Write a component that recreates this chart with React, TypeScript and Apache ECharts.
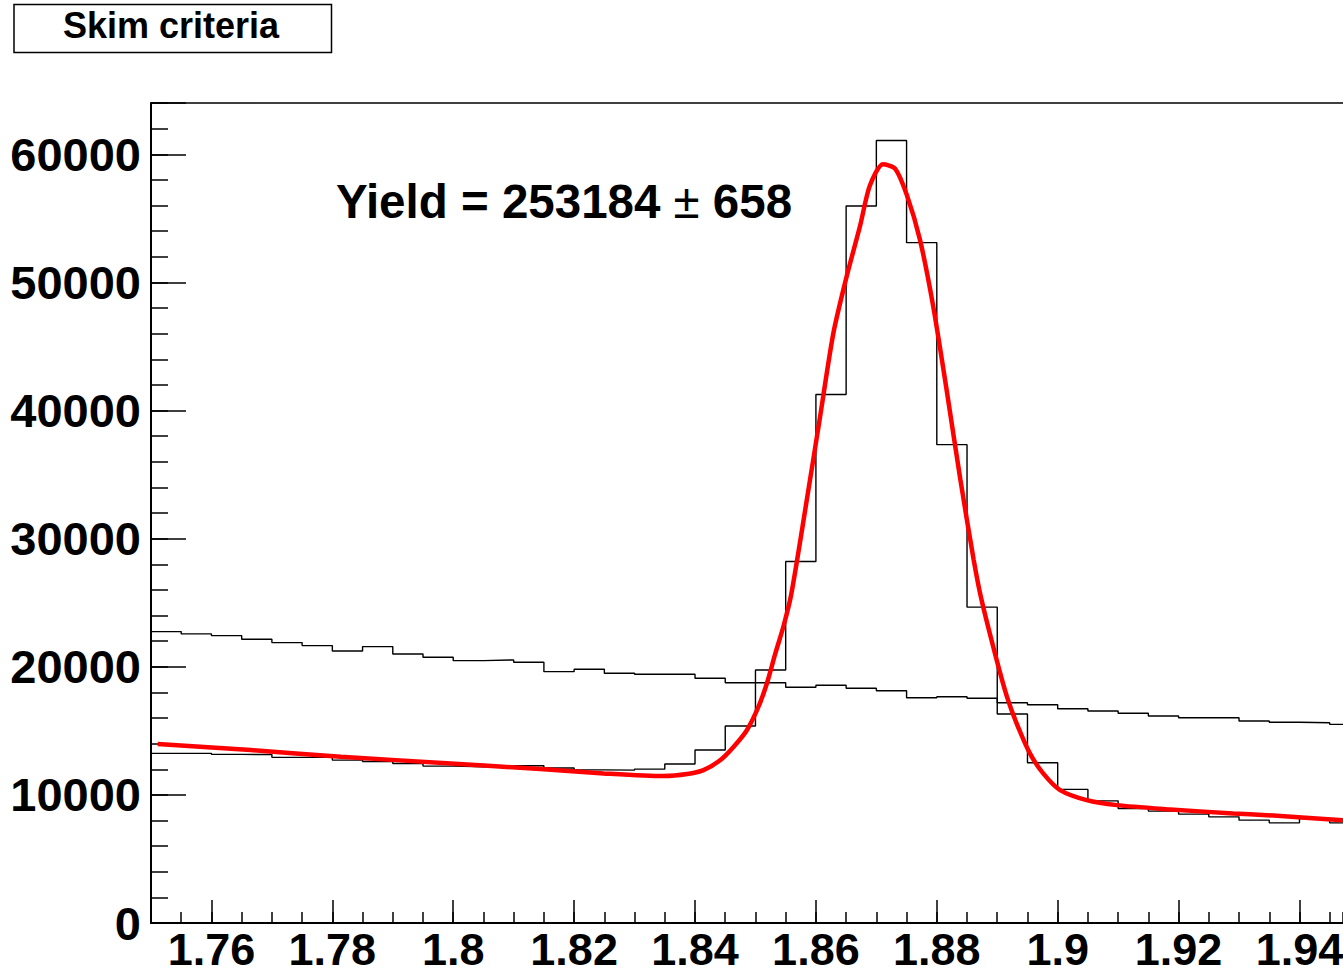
import React, { useEffect, useRef } from 'react';
import * as echarts from 'echarts';

// Histogram binning (GeV) and plot window
const BIN_START = 1.75;
const BIN_WIDTH = 0.005;
const X_MIN = 1.75;
const X_MAX = 1.9472;
const Y_MAX = 64000;

const X_MAJOR_TICKS = [1.76, 1.78, 1.8, 1.82, 1.84, 1.86, 1.88, 1.9, 1.92, 1.94];

// Sideband-like reference distribution (entries per bin)
const REFERENCE_COUNTS = [
  22743, 22563, 22430, 22149, 21884, 21649, 21235, 21571, 21000, 20743,
  20477, 20532, 20352, 19617, 19805, 19492, 19414, 19414, 19101, 18757,
  18757, 18398, 18554, 18320, 18132, 17585, 17663, 17538, 17194, 17038,
  16725, 16545, 16366, 16155, 16022, 16022, 15764, 15663, 15631, 15506,
];

// Candidates passing the skim criteria (entries per bin)
const SKIM_COUNTS = [
  13240, 13240, 13161, 13150, 12927, 12927, 12716, 12600, 12450, 12247,
  12200, 12150, 12270, 12100, 11950, 11935, 12013, 12404, 13498, 15373,
  19750, 28214, 41243, 55960, 61070, 53100, 37335, 24650, 16311, 12505,
  10426, 9535, 8941, 8730, 8495, 8284, 8027, 7815, 8150, 7815,
];

// Fitted signal + background curve
const FIT_X = [
  1.7511, 1.7665, 1.7814, 1.7996, 1.8144, 1.8249, 1.8348, 1.8387, 1.8414, 1.8442,
  1.8464, 1.8486, 1.8505, 1.8519, 1.8533, 1.8546, 1.8559, 1.8585, 1.8607, 1.8629,
  1.8651, 1.8673, 1.8689, 1.8711, 1.8731, 1.875, 1.8772, 1.8794, 1.8817, 1.8839,
  1.8861, 1.8874, 1.8899, 1.8916, 1.8932, 1.8954, 1.8976, 1.9004, 1.9048, 1.9098,
  1.918, 1.929, 1.9346, 1.9472,
];
const FIT_Y = [
  13966, 13497, 12974, 12458, 12013, 11677, 11465, 11622, 11934, 12716,
  13755, 15061, 16881, 18710, 21055, 23100, 25600, 33036, 39547, 46065,
  50488, 54396, 57523, 59218, 58882, 56874, 53357, 48144, 41375, 34599,
  28347, 25221, 20532, 17663, 15584, 13240, 11677, 10371, 9590, 9199,
  8886, 8550, 8417, 8027,
];

const YIELD = 253184;
const YIELD_ERR = 658;
const LEGEND_LABEL = 'Skim criteria';

const FONT = '"Liberation Sans", Arial, Helvetica, sans-serif';

// Left bin edges plus the closing edge, for a step outline
function stepPoints(counts: number[]): number[][] {
  const pts = counts.map((c, i) => [BIN_START + i * BIN_WIDTH, c]);
  pts.push([BIN_START + counts.length * BIN_WIDTH, counts[counts.length - 1]]);
  return pts;
}

export default function App() {
  const ref = useRef<HTMLDivElement>(null);

  useEffect(() => {
    if (!ref.current) return;
    const chart = echarts.init(ref.current, null, { renderer: 'svg' });

    const hiddenAxisParts = {
      axisLabel: { show: false },
      splitLine: { show: false },
    };

    chart.setOption({
      animation: false,
      backgroundColor: '#ffffff',
      grid: {
        left: 151,
        right: 0,
        top: 103,
        bottom: 52,
        containLabel: false,
        outerBoundsMode: 'none',
      },
      xAxis: [
        {
          type: 'value',
          position: 'bottom',
          min: X_MIN,
          max: X_MAX,
          axisLine: { show: true, onZero: false, lineStyle: { color: '#000', width: 2 } },
          axisTick: {
            show: true,
            inside: true,
            length: 23,
            customValues: X_MAJOR_TICKS,
            lineStyle: { color: '#000', width: 1.5 },
          },
          axisLabel: {
            show: true,
            customValues: X_MAJOR_TICKS,
            margin: 9.5,
            lineHeight: 34,
            color: '#000',
            fontSize: 45,
            fontWeight: 'bold',
            fontFamily: FONT,
            hideOverlap: false,
            formatter: (v: number) => String(+v.toFixed(3)),
          },
          splitLine: { show: false },
        },
        {
          type: 'value',
          position: 'bottom',
          min: X_MIN,
          max: X_MAX,
          interval: BIN_WIDTH,
          axisLine: { show: false, onZero: false },
          axisTick: { show: true, inside: true, length: 11, lineStyle: { color: '#000', width: 1.5 } },
          ...hiddenAxisParts,
        },
        {
          type: 'value',
          position: 'top',
          min: X_MIN,
          max: X_MAX,
          axisLine: { show: true, onZero: false, lineStyle: { color: '#000', width: 1.5 } },
          axisTick: { show: false },
          ...hiddenAxisParts,
        },
      ],
      yAxis: [
        {
          type: 'value',
          position: 'left',
          min: 0,
          max: Y_MAX,
          interval: 10000,
          axisLine: { show: true, onZero: false, lineStyle: { color: '#000', width: 2 } },
          axisTick: { show: true, inside: true, length: 35, lineStyle: { color: '#000', width: 1.5 } },
          axisLabel: {
            show: true,
            margin: 10,
            color: '#000',
            fontSize: 47,
            fontWeight: 'bold',
            fontFamily: FONT,
            formatter: (v: number) => (v % 10000 === 0 ? String(v) : ''),
          },
          splitLine: { show: false },
        },
        {
          type: 'value',
          position: 'left',
          min: 0,
          max: Y_MAX,
          interval: 2000,
          axisLine: { show: false, onZero: false },
          axisTick: { show: true, inside: true, length: 17, lineStyle: { color: '#000', width: 1.5 } },
          ...hiddenAxisParts,
        },
      ],
      series: [
        {
          name: 'Reference',
          type: 'line',
          xAxisIndex: 0,
          yAxisIndex: 0,
          data: stepPoints(REFERENCE_COUNTS),
          step: 'end',
          symbol: 'none',
          clip: true,
          lineStyle: { color: '#000', width: 1.4 },
          z: 2,
        },
        {
          name: LEGEND_LABEL,
          type: 'line',
          xAxisIndex: 0,
          yAxisIndex: 0,
          data: stepPoints(SKIM_COUNTS),
          step: 'end',
          symbol: 'none',
          clip: true,
          lineStyle: { color: '#000', width: 1.4 },
          z: 2,
        },
        {
          name: 'Fit',
          type: 'line',
          xAxisIndex: 0,
          yAxisIndex: 0,
          data: FIT_X.map((x, i) => [x, FIT_Y[i]]),
          smooth: 0.25,
          symbol: 'none',
          clip: true,
          lineStyle: { color: '#ff0000', width: 4.5 },
          z: 3,
        },
      ],
      graphic: [
        {
          type: 'rect',
          shape: { x: 14, y: 4.5, width: 317.5, height: 48 },
          style: { fill: '#ffffff', stroke: '#000', lineWidth: 1.5 },
          z: 10,
        },
        {
          type: 'text',
          x: 171,
          y: 25,
          style: {
            text: LEGEND_LABEL,
            fontSize: 36,
            fontWeight: 'bold',
            fontFamily: FONT,
            fill: '#000',
            align: 'center',
            verticalAlign: 'middle',
          },
          z: 11,
        },
        {
          type: 'text',
          x: 336,
          y: 201,
          style: {
            text: `{b|Yield = ${YIELD} }{n|\u00b1}{b| ${YIELD_ERR}}`,
            fill: '#000',
            align: 'left',
            verticalAlign: 'middle',
            rich: {
              b: { fontSize: 47.5, fontWeight: 'bold', fontFamily: FONT, fill: '#000' },
              n: { fontSize: 47.5, fontWeight: 'normal', fontFamily: FONT, fill: '#000' },
            },
          },
          z: 11,
        },
      ],
    });

    return () => chart.dispose();
  }, []);

  return (
    <div
      ref={ref}
      style={{ position: 'absolute', left: 0, top: 0, width: 1343, height: 975, background: '#ffffff' }}
    />
  );
}
